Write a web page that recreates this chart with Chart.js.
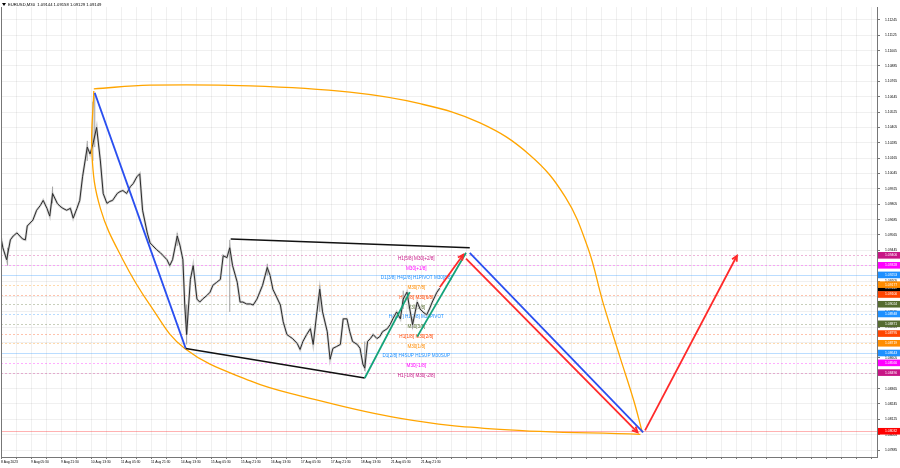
<!DOCTYPE html>
<html lang="en">
<head>
<meta charset="utf-8">
<title>EURUSD,M30</title>
<script src="https://cdn.jsdelivr.net/npm/chart.js"></script>
<style>
  html, body { margin: 0; padding: 0; background: #fff; }
</style>
</head>
<body>
<canvas id="priceChart" width="900" height="468"></canvas>
<script>
// x axis = M30 bar number, bar 0 = 8 Aug 2023 13:30, one label every 32 bars
const timeLabels = ['8 Aug 2023', '9 Aug 05:30', '9 Aug 21:30', '10 Aug 13:30', '11 Aug 05:30',
  '11 Aug 21:30', '14 Aug 13:30', '15 Aug 05:30', '15 Aug 21:30', '16 Aug 13:30', '17 Aug 05:30',
  '17 Aug 21:30', '18 Aug 13:30', '21 Aug 05:30', '21 Aug 21:30'];
const yTicks = [1.07885, 1.08005, 1.08125, 1.08245, 1.08365, 1.08485, 1.08605, 1.08725, 1.08845,
  1.08965, 1.09085, 1.09205, 1.09325, 1.09445, 1.09565, 1.09685, 1.09805, 1.09925, 1.10045, 1.10165,
  1.10285, 1.10405, 1.10525, 1.10645, 1.10765, 1.10885, 1.11005, 1.11125, 1.11245];
const lastBar = [1.09144, 1.09158, 1.09129, 1.09149];   // O H L C
const bidPrice = 1.09149;

const priceBars = [0,2,6,10,13,17,20,23,26,28,31,34,38,42,45,49,52,55,60,63,66,70,74,77,81,84,87,92,95,98,
  102,106,109,113,116,119,124,127,130,134,138,141,145,148,151,156,159,162,166,170,173,177,180,183,188,191,
  194,196,198,202,205,209,212,215,220,223,226,230,234,237,241,244,247,252,255,258,262,266,269,273,276,279,
  284,287,290,294,298,301,305,308,311,316,319,322,326,330,333,337,340,343,348,351,354,358,362,365,369,372,
  375,380,383,386,388,391,394,397,401,404,407,412,415,418,422,426,429,433,436,439,444,447,450,454,457,460,
  465,468];
const priceClose = [1.09542,1.09465,1.09372,1.09527,1.09557,1.09581,1.09557,1.09534,1.09527,1.09635,
  1.09658,1.09681,1.09758,1.09796,1.09835,1.09773,1.09712,1.09889,1.09812,1.09789,
  1.09773,1.09758,1.09773,1.09696,1.09773,1.09835,1.10020,1.10251,1.10197,1.10274,
  1.10405,1.10143,1.09889,1.09812,1.09827,1.09835,1.09889,1.09904,1.09912,1.09889,
  1.09943,1.09966,1.10020,1.10043,1.09758,1.09581,1.09503,1.09480,1.09450,1.09426,
  1.09403,1.09372,1.09326,1.09372,1.09557,1.09480,1.09372,1.09018,1.08787,1.09218,
  1.09326,1.09064,1.09041,1.09064,1.09095,1.09118,1.09172,1.09195,1.09218,1.09403,
  1.09388,1.09465,1.09326,1.09195,1.09041,1.09041,1.09026,1.09026,1.09018,1.09064,
  1.09118,1.09172,1.09311,1.09249,1.09141,1.09080,1.09018,1.08887,1.08787,1.08771,
  1.08756,1.08717,1.08671,1.08733,1.08787,1.08833,1.08710,1.08964,1.09141,1.08964,
  1.08810,1.08594,1.08679,1.08694,1.08710,1.08910,1.08910,1.08810,1.08733,1.08710,
  1.08679,1.08556,1.08525,1.08733,1.08756,1.08787,1.08756,1.08771,1.08810,1.08833,
  1.08864,1.08910,1.08964,1.08910,1.09064,1.09118,1.08987,1.08864,1.09041,1.08987,
  1.08964,1.08941,1.08987,1.09041,1.09118,1.09149];

// long candle shadows
const wickBars = [7, 55, 92, 98, 100, 188, 198, 244, 284, 340, 388, 429, 439];
const wickLow  = [1.09326, 1.09812, 1.10143, 1.10143, 1.10251, 1.09480, 1.08710, 1.08964, 1.09249, 1.08964, 1.08502, 1.08987, 1.08833];
const wickHigh = [1.09465, 1.09943, 1.10300, 1.10606, 1.10675, 1.09580, 1.09018, 1.09527, 1.09340, 1.09172, 1.08733, 1.09130, 1.08910];

// levels
const levelPrices = [1.09406, 1.09328, 1.09253, 1.09177, 1.09100, 1.09024, 1.08948,
  1.08871, 1.08795, 1.08719, 1.08643, 1.08566, 1.08490];
const levelNames = ['H1[5/8] M30[+2/8]', 'M30[+1/8]', 'D1[3/8] H4[2/8] H1PIVOT M30[8/8]', 'M30[7/8]',
  'H1[3/8] M30[6/8]', 'M30[5/8]', 'H4[1/8] H1[2/8] M30PIVOT', 'M30[3/8]', 'H1[1/8] M30[2/8]',
  'M30[1/8]', 'D1[2/8] H4SUP H1SUP M30SUP', 'M30[-1/8]', 'H1[-1/8] M30[-2/8]'];
const levelLabelBar = 443;
const targetPrice = 1.08032;

// drawn objects, [bar, price]
const blueLine1  = [[100, 1.10675], [197, 1.08679]];
const blackLine1 = [[197, 1.08679], [388, 1.08448]];
const blackLine2 = [[245, 1.09534], [500, 1.09465]];
const greenLine1 = [[388, 1.08448], [436, 1.09118]];
const greenLine2 = [[444, 1.08771], [496, 1.09426]];
const redArrow1  = [[468, 1.09157], [493, 1.09411]];
const blueLine2  = [[500, 1.09426], [685, 1.08024]];
const redArrow2  = [[496, 1.09380], [679, 1.08024]];
const redArrow3  = [[687, 1.08039], [785, 1.09403]];
const arcTop = [[99, 1.10706], [159, 1.10735], [266, 1.10729], [372, 1.10680], [447, 1.10590],
  [511, 1.10440], [564, 1.10190], [602, 1.09860], [626, 1.09465], [642, 1.09041], [660, 1.08617],
  [675, 1.08270], [684, 1.08024]];
const arcBottom = [[99, 1.10690], [97, 1.10197], [106, 1.09773], [130, 1.09372], [159, 1.09018],
  [196, 1.08679], [266, 1.08425], [319, 1.08309], [426, 1.08132], [532, 1.08047], [682, 1.08008]];

// styles
const levelColors = ['#c71585', '#ff00ff', '#1e90ff', '#ff8c00', '#ff4500', '#556b2f', '#1e90ff',
  '#556b2f', '#ff4500', '#ff8c00', '#1e90ff', '#ff00ff', '#c71585'];
const levelSolid = [false, false, true, false, false, false, false, false, false, false, true, false, false];
const FONT = '"Liberation Sans", Arial, sans-serif';

function rgba(hex, a) {
  const n = parseInt(hex.slice(1), 16);
  return 'rgba(' + (n >> 16) + ',' + ((n >> 8) & 255) + ',' + (n & 255) + ',' + a + ')';
}
const pts = arr => arr.map(p => ({x: p[0], y: p[1]}));

const closeData = priceBars.map((b, i) => ({x: b, y: priceClose[i]}));
const wickData = [];
wickBars.forEach((b, i) => {
  wickData.push({x: b, y: wickLow[i]}, {x: b, y: wickHigh[i]}, {x: b, y: null});
});

function seg(data, color, width, order, arrow) {
  return {data: pts(data), borderColor: color, borderWidth: width, pointRadius: 0,
    tension: 0, order: order, arrow: !!arrow};
}

const mtDecor = {
  id: 'mtDecor',
  beforeDatasetsDraw(chart) {
    const {ctx, chartArea: a, scales: {x, y}} = chart;
    ctx.save();
    ctx.lineWidth = 1;
    levelPrices.forEach((p, i) => {
      const py = Math.round(y.getPixelForValue(p)) + 0.5;
      ctx.strokeStyle = rgba(levelColors[i], levelSolid[i] ? 0.3 : 0.32);
      ctx.setLineDash(levelSolid[i] ? [] : [2, 2]);
      ctx.beginPath(); ctx.moveTo(a.left, py); ctx.lineTo(a.right, py); ctx.stroke();
    });
    ctx.setLineDash([]);
    ctx.strokeStyle = 'rgba(255,0,0,0.3)';
    const ty = Math.round(y.getPixelForValue(targetPrice)) + 0.5;
    ctx.beginPath(); ctx.moveTo(a.left, ty); ctx.lineTo(a.right, ty); ctx.stroke();

    ctx.font = '4.6px ' + FONT;
    ctx.textAlign = 'center';
    ctx.textBaseline = 'top';
    const lx = x.getPixelForValue(levelLabelBar);
    levelPrices.forEach((p, i) => {
      ctx.fillStyle = levelColors[i];
      ctx.fillText(levelNames[i], lx, y.getPixelForValue(p) + 0.8);
    });
    ctx.restore();
  },
  afterDatasetsDraw(chart) {
    const ctx = chart.ctx;
    ctx.save();
    chart.data.datasets.forEach((ds, i) => {
      if (!ds.arrow) return;
      const d = chart.getDatasetMeta(i).data;
      const p1 = d[d.length - 2], p2 = d[d.length - 1];
      const ang = Math.atan2(p2.y - p1.y, p2.x - p1.x);
      ctx.strokeStyle = ds.borderColor;
      ctx.lineWidth = ds.borderWidth;
      ctx.beginPath();
      ctx.moveTo(p2.x - 6 * Math.cos(ang - 0.45), p2.y - 6 * Math.sin(ang - 0.45));
      ctx.lineTo(p2.x, p2.y);
      ctx.lineTo(p2.x - 6 * Math.cos(ang + 0.45), p2.y - 6 * Math.sin(ang + 0.45));
      ctx.stroke();
    });
    ctx.restore();
  },
  afterDraw(chart) {
    const {ctx, chartArea: a, scales: {y}} = chart;
    ctx.save();
    // left border
    ctx.strokeStyle = '#777';
    ctx.lineWidth = 1;
    ctx.beginPath(); ctx.moveTo(a.left + 0.5, a.top); ctx.lineTo(a.left + 0.5, a.bottom); ctx.stroke();

    // price boxes on the axis
    ctx.font = '3.4px ' + FONT;
    ctx.textAlign = 'left';
    ctx.textBaseline = 'middle';
    const bx = a.right + 1, bw = chart.width - bx;
    const box = (p, color) => {
      const py = y.getPixelForValue(p);
      ctx.fillStyle = color;
      ctx.fillRect(bx, py - 3.3, bw, 6.6);
      ctx.fillStyle = '#fff';
      ctx.fillText(p.toFixed(5), a.right + 8, py);
    };
    box(bidPrice, '#000');
    levelPrices.forEach((p, i) => box(p, levelColors[i]));
    box(targetPrice, '#ff0000');

    // title
    ctx.fillStyle = '#000';
    ctx.beginPath(); ctx.moveTo(2, 3); ctx.lineTo(6, 3); ctx.lineTo(4, 6); ctx.closePath(); ctx.fill();
    ctx.font = '4.2px ' + FONT;
    ctx.fillText('EURUSD,M30  ' + lastBar.map(v => v.toFixed(5)).join(' '), 8, 4.7);
    ctx.restore();
  }
};

new Chart(document.getElementById('priceChart'), {
  type: 'line',
  data: {
    datasets: [
      seg(blueLine1, '#2a4ff0', 1.8, 1),
      seg(blueLine2, '#2a4ff0', 1.8, 1),
      seg(redArrow2, '#ff2a2a', 1.8, 1, true),
      seg(redArrow1, '#ff2a2a', 1.8, 1, true),
      seg(redArrow3, '#ff2a2a', 1.8, 1, true),
      seg(greenLine1, '#13a37a', 1.8, 2),
      seg(greenLine2, '#13a37a', 1.8, 2),
      seg(blackLine1, '#111', 1.6, 2),
      seg(blackLine2, '#111', 1.6, 2),
      {data: pts(arcTop), borderColor: '#ffa500', borderWidth: 1.3, pointRadius: 0, tension: 0.4, order: 3},
      {data: pts(arcBottom), borderColor: '#ffa500', borderWidth: 1.3, pointRadius: 0, tension: 0.4, order: 3},
      {data: closeData, borderColor: '#2b2b2b', borderWidth: 1, pointRadius: 0, tension: 0, order: 8},
      {data: wickData, borderColor: '#a0a0a0', borderWidth: 1, pointRadius: 0, spanGaps: false, order: 9},
      {data: closeData, borderColor: '#cfcfcf', borderWidth: 2.4, pointRadius: 0, tension: 0, order: 10}
    ]
  },
  options: {
    responsive: false,
    animation: false,
    events: [],
    layout: { padding: { left: 1, top: 1, right: 0, bottom: 0 } },
    plugins: { legend: { display: false }, tooltip: { enabled: false } },
    scales: {
      x: {
        type: 'linear',
        min: 0,
        max: 934.4,
        afterBuildTicks: s => {
          s.ticks = [];
          for (let v = 0; v <= 934; v += 16) s.ticks.push({value: v});
        },
        afterFit: s => { s.height = 11; },
        grid: { color: 'rgba(0,0,0,0.06)', tickLength: 2, tickColor: '#777' },
        border: { display: true, color: '#777' },
        ticks: {
          autoSkip: false, maxRotation: 0, align: 'start', padding: 1, color: '#000',
          font: { family: FONT, size: 3.3 },
          callback: v => (v % 32 === 0 ? (timeLabels[v / 32] || '') : '')
        }
      },
      y: {
        type: 'linear',
        position: 'right',
        min: 1.07831,
        max: 1.11345,
        afterBuildTicks: s => { s.ticks = yTicks.map(v => ({value: v})); },
        afterFit: s => { s.width = 23; },
        grid: { color: 'rgba(0,0,0,0.06)', tickLength: 3, tickColor: '#777' },
        border: { display: true, color: '#777' },
        ticks: {
          padding: 5, color: '#000', crossAlign: 'near',
          font: { family: FONT, size: 3.4 },
          callback: v => v.toFixed(5)
        }
      }
    }
  },
  plugins: [mtDecor]
});
</script>
</body>
</html>
